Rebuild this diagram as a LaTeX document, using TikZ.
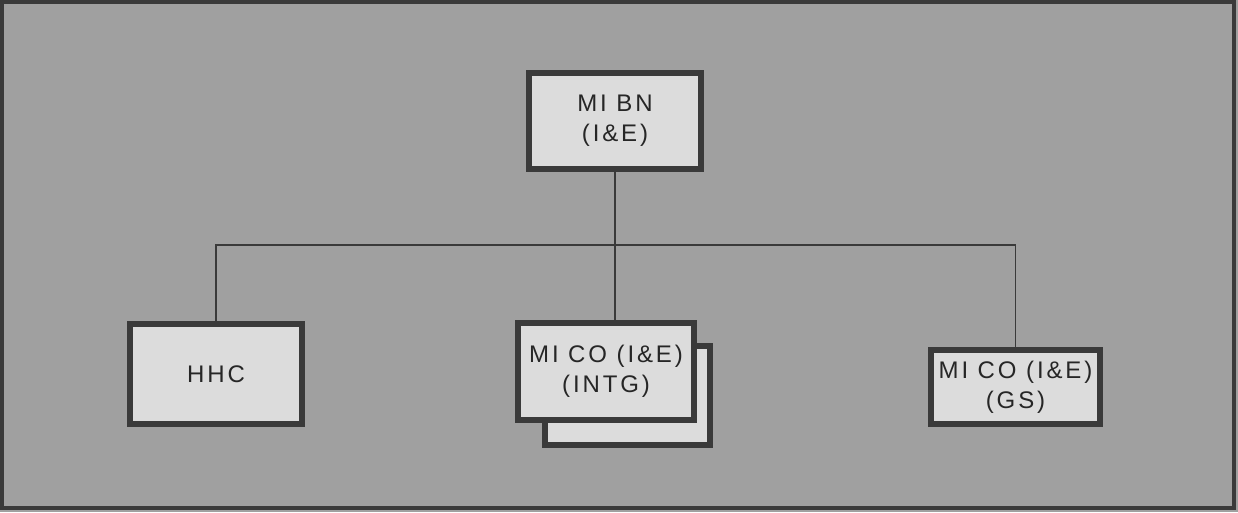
\documentclass[tikz,border=0pt]{standalone}
\usepackage{fontspec}
\newfontfamily\boxfont[LetterSpace=12]{Liberation Sans}
\definecolor{bggray}{HTML}{A0A0A0}
\definecolor{boxgray}{HTML}{DCDCDC}
\definecolor{edgegray}{HTML}{3A3A3A}
\definecolor{txtgray}{HTML}{262626}
\begin{document}
\begin{tikzpicture}[x=1pt,y=-1pt,
  unitbox/.style={draw=edgegray, line width=6pt, fill=boxgray, inner sep=0pt,
    align=center, text=txtgray, font=\boxfont\fontsize{24}{30}\selectfont},
  link/.style={draw=edgegray, line width=1.4pt}]
\useasboundingbox (0,0) rectangle (1238,512);
\fill[bggray] (0,0) rectangle (1238,512);
\draw[edgegray, line width=4pt] (2,2) rectangle (1234,508);
% boxes
\node[unitbox, minimum width=165pt, minimum height=99pt] (shadow) at (627.5,395.5) {};
\node[unitbox, minimum width=172pt, minimum height=96pt] (top) at (615,121) {MI BN\\(I\&E)};
\node[unitbox, minimum width=172pt, minimum height=100pt] (hhc) at (216,374) {HHC};
\node[unitbox, minimum width=176pt, minimum height=97pt] (intg) at (606,371.5) {MI CO (I\&E)\\(INTG)};
\node[unitbox, minimum width=169pt, minimum height=74pt] (gs) at (1015.5,387) {MI CO (I\&E)\\(GS)};
\coordinate (bus) at (615,245);
% connectors
\draw[link] (top.south) -- (top.south |- intg.north);
\draw[link] (hhc.north) |- (bus) -| (gs.north);
\end{tikzpicture}
\end{document}
